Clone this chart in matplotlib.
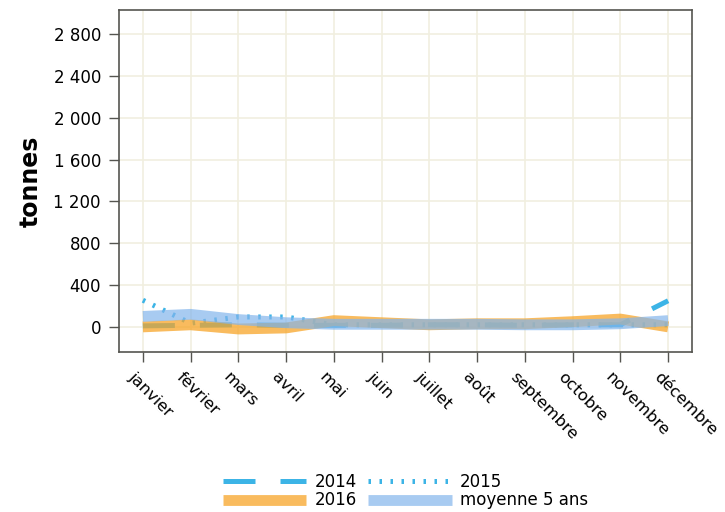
import numpy as np
import matplotlib
matplotlib.use("Agg")
import matplotlib.pyplot as plt
from matplotlib.ticker import FuncFormatter
from matplotlib.transforms import ScaledTranslation

months = ["janvier", "février", "mars", "avril", "mai", "juin", "juillet",
          "août", "septembre", "octobre", "novembre", "décembre"]
v2014 = [10, 15, 20, 15, 15, 15, 20, 20, 15, 20, 20, 250]
v2015 = [255, 35, 95, 95, 20, 20, 20, 20, 20, 20, 20, 20]
v2016 = [0, 20, -20, -10, 60, 40, 20, 30, 30, 50, 75, 0]
moy5 = [100, 120, 70, 40, 25, 25, 25, 25, 20, 20, 30, 60]
yticks = [0, 400, 800, 1200, 1600, 2000, 2400, 2800]

C_LINE = "#3cb4e6"
C_2016 = "#f7a528"
C_MOY = "#83b5ec"
C_GRID = "#f1efe0"
C_AXIS = "#555550"

plt.rcParams["font.family"] = ["DejaVu Sans"]

fig = plt.figure(figsize=(7.25, 5.12), dpi=100)
ax = fig.add_axes([119 / 725, 1 - 352 / 512, (692 - 119) / 725, (352 - 10) / 512])

x = np.arange(len(months))
l14, = ax.plot(x, v2014, color=C_LINE, linewidth=3.6, dashes=(6.4, 5.0),
               dash_capstyle="butt", zorder=2, label="2014")
l15, = ax.plot(x, v2015, color=C_LINE, linewidth=3.6, dashes=(0.5, 1.7),
               dash_capstyle="butt", zorder=2, label="2015")
l16, = ax.plot(x, v2016, color=C_2016, linewidth=7.8, alpha=0.75,
               solid_capstyle="butt", zorder=3, label="2016")
lmo, = ax.plot(x, moy5, color=C_MOY, linewidth=7.8, alpha=0.7,
               solid_capstyle="butt", zorder=4, label="moyenne 5 ans")

ax.set_xlim(-0.5, 11.5)
ax.set_ylim(-240, 3030)
ax.set_xticks(x)
ax.set_xticklabels(months, rotation=-45, ha="left", va="top",
                   rotation_mode="anchor", fontsize=11.8)
ax.set_yticks(yticks)
ax.yaxis.set_major_formatter(FuncFormatter(lambda v, p: f"{int(v):,}".replace(",", " ")))
ax.tick_params(axis="both", length=7, width=1, color=C_AXIS)
ax.tick_params(axis="y", labelsize=12, pad=6)
ax.tick_params(axis="x", pad=5.3)

# décalage des étiquettes de mois vers la gauche (après tick_params)
shift = ScaledTranslation(-5 / 72, 0, fig.dpi_scale_trans)
for tick in ax.xaxis.get_major_ticks():
    tick.label1.set_transform(tick.label1.get_transform() + shift)

ax.grid(True, color=C_GRID, linewidth=1.2)
ax.set_axisbelow(True)
for s in ax.spines.values():
    s.set_color(C_AXIS)
    s.set_linewidth(1.2)

ax.set_ylabel("tonnes", fontsize=17, fontweight="bold", labelpad=8)

ax.legend(handles=[l14, l16, l15, lmo], ncol=2, loc="lower center",
          bbox_to_anchor=(0.5, -0.48), frameon=False, fontsize=12,
          handlelength=5.0, handletextpad=0.5, columnspacing=0.7,
          labelspacing=0.05, borderaxespad=0)

fig.savefig("out.png", dpi=100)
